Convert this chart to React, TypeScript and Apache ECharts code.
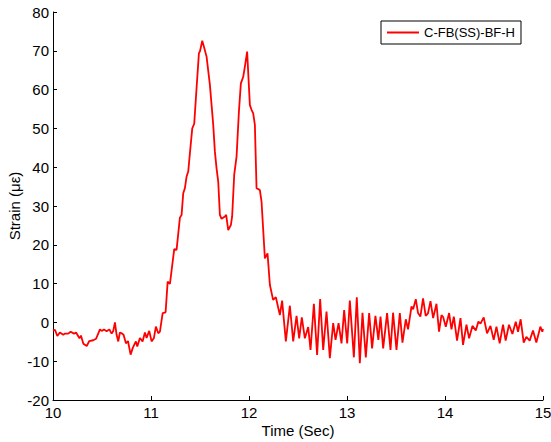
import React, { useEffect, useRef } from "react";
import * as echarts from "echarts";

const seriesName = "C-FB(SS)-BF-H";
const xTitle = "Time (Sec)";
const yTitle = "Strain (με)";
const xTicks = { min: 10, max: 15, interval: 1 };
const yTicks = { min: -20, max: 80, interval: 10 };

const timeSec = [
  10.0, 10.02, 10.044, 10.07, 10.105, 10.12, 10.155, 10.18, 10.215, 10.235,
  10.27, 10.285, 10.31, 10.344, 10.37, 10.41, 10.44, 10.479, 10.497, 10.52,
  10.547, 10.575, 10.598, 10.615, 10.632, 10.649, 10.666, 10.683, 10.7, 10.72,
  10.744, 10.765, 10.792, 10.815, 10.846, 10.86, 10.887, 10.914, 10.938, 10.955,
  10.982, 11.006, 11.03, 11.05, 11.074, 11.091, 11.119, 11.149, 11.17, 11.193,
  11.237, 11.261, 11.295, 11.312, 11.329, 11.346, 11.363, 11.38, 11.397, 11.421,
  11.441, 11.465, 11.489, 11.499, 11.523, 11.543, 11.567, 11.601, 11.635, 11.652,
  11.669, 11.686, 11.703, 11.72, 11.754, 11.767, 11.788, 11.815, 11.828, 11.849,
  11.873, 11.897, 11.917, 11.941, 11.958, 11.981, 12.009, 12.026, 12.043, 12.06,
  12.077, 12.111, 12.128, 12.162, 12.189, 12.213, 12.246, 12.274, 12.315, 12.338,
  12.376, 12.417, 12.451, 12.485, 12.512, 12.539, 12.57, 12.604, 12.628, 12.662,
  12.695, 12.726, 12.757, 12.791, 12.825, 12.859, 12.883, 12.914, 12.944, 12.971,
  13.002, 13.029, 13.07, 13.1, 13.131, 13.158, 13.192, 13.226, 13.256, 13.29,
  13.32, 13.342, 13.369, 13.409, 13.444, 13.47, 13.505, 13.539, 13.566, 13.6,
  13.623, 13.658, 13.675, 13.702, 13.725, 13.749, 13.776, 13.803, 13.826, 13.852,
  13.879, 13.913, 13.939, 13.964, 13.981, 14.008, 14.042, 14.066, 14.09, 14.123,
  14.158, 14.184, 14.219, 14.246, 14.28, 14.314, 14.341, 14.362, 14.395, 14.429,
  14.464, 14.497, 14.525, 14.558, 14.592, 14.619, 14.653, 14.688, 14.722, 14.745,
  14.772, 14.803, 14.83, 14.864, 14.898, 14.932, 14.973, 14.993, 15.0,
];

const strainMicro = [
  -2.1, -1.9, -3.5, -2.6, -3.2, -2.9, -2.9, -2.4, -2.9, -2.6,
  -4.1, -3.4, -5.5, -6.1, -4.8, -4.6, -4.2, -1.8, -2.2, -1.8,
  -2.3, -1.8, -2.9, -2.2, 0.0, -3.2, -4.9, -2.6, -2.8, -3.2,
  -5.4, -4.8, -8.3, -6.5, -4.9, -6.2, -4.0, -4.9, -2.6, -4.0,
  -2.2, -4.9, -4.0, -1.1, -2.8, -2.4, 2.4, 2.6, 10.5, 9.9,
  18.9, 18.7, 27.0, 27.7, 33.3, 34.6, 37.6, 38.9, 43.6, 50.0,
  51.2, 60.4, 69.4, 69.8, 72.6, 70.8, 68.5, 61.2, 50.9, 44.0,
  39.7, 36.3, 27.7, 26.7, 27.3, 27.7, 23.8, 25.1, 27.3, 38.0,
  42.7, 54.3, 61.6, 63.3, 65.9, 69.8, 56.0, 54.8, 53.9, 50.9,
  34.6, 34.1, 31.1, 16.5, 17.8, 9.7, 5.8, 6.5, 1.9, 5.6,
  -4.9, 4.3, -4.9, 1.7, -4.1, 1.3, -4.1, -1.2, -7.1, 4.8,
  -8.4, 6.0, -7.1, 2.8, -9.2, -0.2, -4.5, -0.2, -5.4, 3.2,
  -5.4, 5.6, -9.0, 6.5, -10.5, 2.5, -9.0, 2.4, -6.7, 1.7,
  -4.5, 1.5, -6.7, 2.4, -7.1, 2.5, -7.1, 2.4, -5.2, 0.8,
  -1.8, 4.1, 3.4, 6.0, 2.4, 1.5, 6.2, 1.7, 2.3, 5.5,
  1.1, 4.8, -2.4, 1.9, 1.4, -1.1, 2.4, -1.8, 1.5, -4.7,
  1.1, -5.8, -0.6, -4.1, -0.9, -2.1, 0.2, -0.3, 1.3, -2.8,
  -0.9, -4.5, -1.1, -5.4, -0.6, -4.7, -0.6, -3.0, 0.2, -2.4,
  0.8, -5.2, -3.7, -4.7, -2.1, -5.2, -1.1, -2.4, -1.7,
];

const FONT = "'Liberation Sans', Arial, Helvetica, sans-serif";

export default function App() {
  const ref = useRef<HTMLDivElement>(null);
  useEffect(() => {
    if (!ref.current) return;
    const chart = echarts.init(ref.current, null, { renderer: "svg" });
    const data = timeSec.map((t, i) => [t, strainMicro[i]]);
    chart.setOption({
      animation: false,
      backgroundColor: "#ffffff",
      textStyle: { fontFamily: FONT },
      grid: {
        left: 53,
        right: 8,
        top: 12,
        bottom: 42,
        containLabel: false,
        outerBoundsMode: "none",
      },
      graphic: [
        {
          type: "text",
          x: 298,
          y: 430,
          style: {
            text: xTitle,
            fontFamily: FONT,
            fontSize: 15,
            fill: "#000000",
            align: "center",
            verticalAlign: "middle",
          },
        },
        {
          type: "text",
          x: 14,
          y: 206,
          rotation: Math.PI / 2,
          style: {
            text: yTitle,
            fontFamily: FONT,
            fontSize: 15,
            fill: "#000000",
            align: "center",
            verticalAlign: "middle",
          },
        },
      ],
      legend: {
        show: true,
        left: 381,
        top: 21,
        orient: "horizontal",
        icon: "rect",
        itemWidth: 32,
        itemHeight: 2,
        itemGap: 5,
        padding: [4, 6, 4, 6],
        borderColor: "#000000",
        borderWidth: 1,
        borderRadius: 0,
        backgroundColor: "#ffffff",
        textStyle: { fontFamily: FONT, fontSize: 13, color: "#000000", lineHeight: 15 },
        data: [{ name: seriesName }],
      },
      xAxis: {
        type: "value",
        min: xTicks.min,
        max: xTicks.max,
        interval: xTicks.interval,
        axisLine: { show: true, onZero: false, lineStyle: { color: "#000000", width: 1 } },
        axisTick: { show: true, inside: true, length: 4, lineStyle: { color: "#000000" } },
        axisLabel: { fontFamily: FONT, fontSize: 15, color: "#000000", margin: 5 },
        splitLine: { show: false },
      },
      yAxis: {
        type: "value",
        min: yTicks.min,
        max: yTicks.max,
        interval: yTicks.interval,
        axisLine: { show: true, onZero: false, lineStyle: { color: "#000000", width: 1 } },
        axisTick: { show: true, inside: true, length: 4, lineStyle: { color: "#000000" } },
        axisLabel: { fontFamily: FONT, fontSize: 15, color: "#000000", margin: 4 },
        splitLine: { show: false },
      },
      series: [
        {
          name: seriesName,
          type: "line",
          data,
          symbol: "none",
          showSymbol: false,
          smooth: false,
          lineStyle: { color: "#ff0000", width: 1.8 },
          itemStyle: { color: "#ff0000" },
          clip: true,
        },
      ],
    });
    return () => chart.dispose();
  }, []);
  return (
    <div
      ref={ref}
      style={{ position: "fixed", left: 0, top: 0, width: 551, height: 442, background: "#fff" }}
    />
  );
}
